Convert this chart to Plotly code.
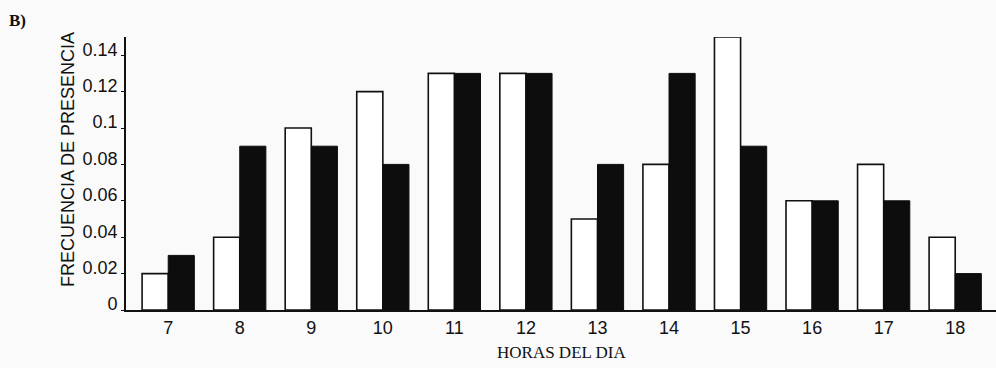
import plotly.graph_objects as go

# Hours of the day and presence frequency for the two series
horas = [7, 8, 9, 10, 11, 12, 13, 14, 15, 16, 17, 18]
frecuencia_blanca = [0.02, 0.04, 0.10, 0.12, 0.13, 0.13, 0.05, 0.08, 0.15, 0.06, 0.08, 0.04]
frecuencia_negra = [0.03, 0.09, 0.09, 0.08, 0.13, 0.13, 0.08, 0.13, 0.09, 0.06, 0.06, 0.02]
y_ticks = [0, 0.02, 0.04, 0.06, 0.08, 0.1, 0.12, 0.14]
y_tick_text = ["0", "0.02", "0.04", "0.06", "0.08", "0.1", "0.12", "0.14"]

W, H = 996, 368
L, R, T, B = 126, 0, 37, 58
PW, PH = W - L - R, H - T - B


def px_x(x):
    """Paper x coordinate from a pixel column."""
    return (x - L) / PW


def px_y(y):
    """Paper y coordinate from a pixel row measured from the top."""
    return ((H - B) - y) / PH


fig = go.Figure()
fig.add_trace(go.Bar(
    x=horas, y=frecuencia_blanca,
    marker=dict(color="#ffffff", line=dict(color="#111111", width=1.6)),
    showlegend=False,
))
fig.add_trace(go.Bar(
    x=horas, y=frecuencia_negra,
    marker=dict(color="#0d0d0d", line=dict(color="#0d0d0d", width=1.0)),
    showlegend=False,
))

tick_font = dict(family="Liberation Sans, Arial, sans-serif", size=18, color="#111111")

fig.update_layout(
    width=W, height=H,
    margin=dict(l=L, r=R, t=T, b=B),
    paper_bgcolor="#fafafa",
    plot_bgcolor="#fafafa",
    barmode="group",
    bargap=0.27,
    bargroupgap=0.0,
    xaxis=dict(
        range=[6.41, 18.57],
        tickmode="array", tickvals=horas, ticktext=[str(h) for h in horas],
        showgrid=False, zeroline=False,
        showline=True, linecolor="#111111", linewidth=2,
        ticks="", tickfont=tick_font,
    ),
    yaxis=dict(
        range=[0, 0.15],
        tickmode="array", tickvals=y_ticks, ticktext=y_tick_text,
        showgrid=False, zeroline=False,
        showline=True, linecolor="#111111", linewidth=1.6,
        ticks="outside", ticklen=3, tickcolor="#111111", tickwidth=1,
        tickfont=tick_font,
        ticklabelshift=-6,
    ),
    annotations=[
        dict(text="<b>B)</b>", xref="paper", yref="paper",
             x=px_x(7), y=px_y(21),
             xanchor="left", yanchor="middle", showarrow=False,
             font=dict(family="Liberation Serif, Times New Roman, serif", size=17, color="#111111")),
        dict(text="FRECUENCIA DE PRESENCIA", xref="paper", yref="paper",
             x=px_x(68), y=px_y(160),
             xanchor="center", yanchor="middle", textangle=-90, showarrow=False,
             font=dict(family="Liberation Sans, Arial, sans-serif", size=18, color="#111111")),
        dict(text="HORAS DEL DIA", xref="paper", yref="paper",
             x=px_x(561), y=px_y(353),
             xanchor="center", yanchor="middle", showarrow=False,
             font=dict(family="Liberation Serif, Times New Roman, serif", size=17, color="#111111")),
    ],
)

fig.write_html("out.html")
